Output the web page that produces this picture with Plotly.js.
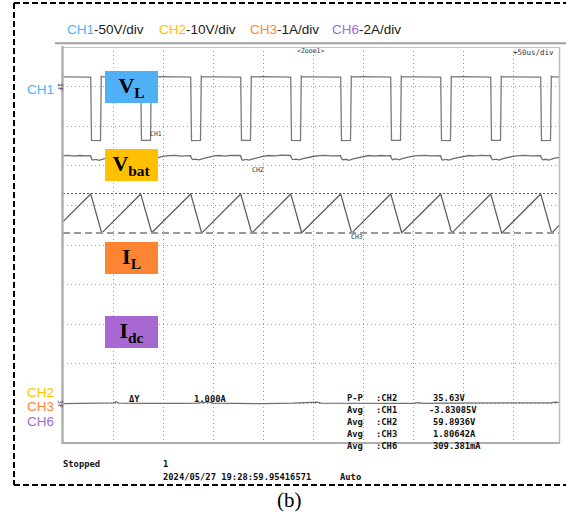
<!DOCTYPE html>
<html>
<head>
<meta charset="utf-8">
<script src="https://cdn.plot.ly/plotly-3.0.1.min.js"></script>
<style>
  html, body { margin: 0; padding: 0; background: #ffffff; }
  #scope { width: 566px; height: 516px; }
</style>
</head>
<body>
<div id="scope"></div>
<script>
// ---- Channel settings (scale per division, trace position in divisions) ----
const chNames   = ['CH1', 'CH2', 'CH3', 'CH6'];
const chUnits   = ['50V/div', '10V/div', '1A/div', '2A/div'];
const chScales  = [50, 10, 1, 2];
const chOffsets = [4, -3.75, -1, -4.15];
const chColors  = ['#4db2ff', '#ffc000', '#ff8533', '#a56bd9'];

// ---- CH1: inductor voltage V_L (time in us, value in V) ----
const ch1T = [0, 12, 20, 27.7, 28.5, 37.5, 38.3, 39.6, 50, 63,
              77.7, 78.5, 87.5, 88.3, 89.6, 100, 113,
              127.7, 128.5, 137.5, 138.3, 139.6, 150, 163,
              177.7, 178.5, 187.5, 188.3, 189.6, 200, 213,
              227.7, 228.5, 237.5, 238.3, 239.6, 250, 263,
              277.7, 278.5, 287.5, 288.3, 289.6, 300, 313,
              327.7, 328.5, 337.5, 338.3, 339.6, 350, 363,
              377.7, 378.5, 387.5, 388.3, 389.6, 400, 413,
              427.7, 428.5, 437.5, 438.3, 439.6, 450, 463,
              477.7, 478.5, 487.5, 488.3, 489.6, 497];
const ch1V = [12.3, 12.0, 12.4, 12.0, -68.0, -68.1, 13.1, 12.3, 12.5, 12.1,
              11.9, -67.9, -68.0, 13.0, 12.2, 12.5, 12.1,
              12.0, -68.1, -68.0, 13.2, 12.3, 12.4, 12.2,
              11.9, -68.0, -67.9, 13.0, 12.3, 12.5, 12.1,
              12.0, -68.0, -68.1, 13.1, 12.2, 12.4, 12.2,
              11.9, -68.1, -68.0, 13.0, 12.3, 12.5, 12.1,
              12.0, -67.9, -68.0, 13.2, 12.3, 12.4, 12.2,
              11.9, -68.0, -68.1, 13.0, 12.2, 12.5, 12.1,
              12.0, -68.0, -67.9, 13.1, 12.3, 12.4, 12.2,
              11.9, -68.1, -68.0, 13.0, 12.3, 12.4];

// ---- CH2: battery voltage V_bat (time in us, value in V) ----
const ch2T = [0, 5, 11, 17, 23, 27.5,
              28.5, 29.5, 33, 36, 40, 45, 50, 56, 62, 68, 74, 77.5,
              78.5, 79.5, 83, 86, 90, 95, 100, 106, 112, 118, 124, 127.5,
              128.5, 129.5, 133, 136, 140, 145, 150, 156, 162, 168, 174, 177.5,
              178.5, 179.5, 183, 186, 190, 195, 200, 206, 212, 218, 224, 227.5,
              228.5, 229.5, 233, 236, 240, 245, 250, 256, 262, 268, 274, 277.5,
              278.5, 279.5, 283, 286, 290, 295, 300, 306, 312, 318, 324, 327.5,
              328.5, 329.5, 333, 336, 340, 345, 350, 356, 362, 368, 374, 377.5,
              378.5, 379.5, 383, 386, 390, 395, 400, 406, 412, 418, 424, 427.5,
              428.5, 429.5, 433, 436, 440, 445, 450, 456, 462, 468, 474, 477.5,
              478.5, 479.5, 483, 486, 490, 494, 497];
const ch2V = [60.05, 60.15, 59.95, 60.1, 60.0, 60.05,
              59.3, 58.95, 59.1, 58.9, 59.2, 59.55, 59.85, 60.1, 59.95, 60.15, 60.0, 60.1,
              59.35, 59.0, 59.15, 58.95, 59.25, 59.6, 59.9, 60.05, 60.15, 59.95, 60.1, 60.05,
              59.4, 59.05, 59.2, 59.0, 59.3, 59.65, 59.95, 60.1, 59.95, 60.15, 60.05, 60.1,
              59.3, 58.9, 59.1, 58.95, 59.25, 59.6, 59.9, 60.1, 60.0, 60.2, 60.05, 60.1,
              59.4, 59.05, 59.2, 59.0, 59.3, 59.6, 59.85, 60.05, 60.15, 60.0, 60.1, 60.05,
              59.35, 59.0, 59.15, 58.9, 59.25, 59.55, 59.85, 60.1, 59.95, 60.1, 60.0, 60.1,
              59.4, 59.05, 59.25, 59.0, 59.35, 59.65, 59.95, 60.05, 60.15, 60.0, 60.1, 60.05,
              59.3, 58.95, 59.1, 58.95, 59.3, 59.6, 59.9, 60.1, 60.0, 60.15, 60.05, 60.1,
              59.35, 59.0, 59.2, 58.95, 59.3, 59.6, 59.9, 60.05, 60.15, 60.0, 60.1, 60.05,
              59.4, 59.0, 59.15, 58.95, 59.3, 59.55, 59.7];

// ---- CH3: inductor current I_L (time in us, value in A) ----
const ch3T = [0, 27.7, 38.7, 77.7, 88.7, 127.7, 138.7, 177.7, 188.7, 227.7, 238.7,
              277.7, 288.7, 327.7, 338.7, 377.7, 388.7, 427.7, 438.7, 477.7, 488.7, 497];
const ch3A = [1.59, 2.29, 1.30, 2.29, 1.31, 2.29, 1.30, 2.29, 1.30, 2.29, 1.31,
              2.29, 1.30, 2.29, 1.31, 2.29, 1.30, 2.29, 1.30, 2.29, 1.30, 1.52];

// ---- CH6: DC-link current I_dc (time in us, value in A) ----
const ch6T = [0, 20, 40, 50, 53, 56, 80, 105, 120, 135, 140, 145, 150, 170, 200, 230,
              250, 254, 258, 280, 300, 330, 350, 355, 360, 385, 410, 440, 470, 488, 492, 497];
const ch6A = [0.29, 0.30, 0.29, 0.33, 0.37, 0.31, 0.30, 0.28, 0.30, 0.31, 0.36, 0.38, 0.31, 0.30, 0.29, 0.31,
              0.32, 0.36, 0.31, 0.30, 0.31, 0.29, 0.30, 0.34, 0.30, 0.31, 0.32, 0.30, 0.31, 0.33, 0.36, 0.34];

// ---- Cursor readout on CH3 ----
const cursorA = [2.30, 1.30];
const cursorText = ['ΔY', '1.000A'];

// ---- Measurement table ----
const measKind  = ['P-P', 'Avg', 'Avg', 'Avg', 'Avg'];
const measSrc   = [':CH2', ':CH1', ':CH2', ':CH3', ':CH6'];
const measValue = ['35.63V', '-3.83085V', '59.8936V', '1.80642A', '309.381mA'];

// ---- Status line ----
const statusText = ['Stopped', '1', '2024/05/27 19:28:59.95416571', 'Auto'];
const topText = ['&lt;Zoom1&gt;', '+50us/div'];

// ---- Signal tags ----
const tagText  = ['V<sub>L</sub>', 'V<sub>bat</sub>', 'I<sub>L</sub>', 'I<sub>dc</sub>'];
const tagColor = ['#4fb0f5', '#ffc000', '#fd8432', '#a868d2'];

// convert a channel's physical values to screen divisions
function toDiv(vals, ch) {
  return vals.map(v => chOffsets[ch] + v / chScales[ch]);
}

// page geometry
const W = 566, H = 516, ML = 63, MR = 6, MT = 47, MB = 73;
const PW = W - ML - MR, PH = H - MT - MB;
const fx = x => (x - ML) / PW;
const fy = y => (H - MB - y) / PH;

const traceColor = ['#7a7a7a', '#6e6e6e', '#5c5c5c', '#707070'];
const series = [[ch1T, ch1V], [ch2T, ch2V], [ch3T, ch3A], [ch6T, ch6A]];
const data = series.map((s, i) => ({
  type: 'scatter', mode: 'lines',
  x: s[0], y: toDiv(s[1], i),
  line: { color: traceColor[i], width: 1.3 },
  hoverinfo: 'skip', showlegend: false
}));

const mono = 'DejaVu Sans Mono, Liberation Mono, monospace';
const sans = 'Liberation Sans, Arial, sans-serif';
const serif = 'Liberation Serif, Times New Roman, serif';

function txt(x, y, text, size, opt) {
  return Object.assign({
    xref: 'paper', yref: 'paper', x: fx(x), y: fy(y), text: text,
    showarrow: false, xanchor: 'left', yanchor: 'middle',
    font: { family: mono, size: size, color: '#111', weight: 'bold' }
  }, opt || {});
}
const tiny = size => ({ font: { family: mono, size: size, color: '#333', weight: 'normal' } });

const annotations = [];

// channel header
const headX = [65, 157, 248, 330];
chNames.forEach((n, i) => {
  annotations.push(txt(headX[i], 29,
    '<span style="color:' + chColors[i] + '">' + n + '</span>-' + chUnits[i], 13.5,
    { font: { family: sans, size: 13.5, color: '#1a1a1a' } }));
});

// channel labels at the left edge
const sideY = [89, 392, 406, 421];
const sideCh = [0, 1, 2, 3];
sideCh.forEach((c, i) => {
  annotations.push(txt(25, sideY[i], chNames[c], 13.5,
    { font: { family: sans, size: 13.5, color: chColors[c] } }));
});

// level markers
annotations.push(txt(60, 87, '1F', 6.5, Object.assign({ xanchor: 'center', textangle: 90 }, tiny(6.5))));
annotations.push(txt(60, 404, '3F', 6.5, Object.assign({ xanchor: 'center', textangle: 90 }, tiny(6.5))));

// signal tags
const tagY = [87, 164.5, 257.5, 331.5];
tagText.forEach((t, i) => {
  annotations.push({
    xref: 'paper', yref: 'paper', x: fx(131.5), y: fy(tagY[i]),
    xanchor: 'center', yanchor: 'middle', showarrow: false,
    text: '<b>' + t + '</b>', width: 53, height: 32, bgcolor: tagColor[i],
    borderpad: 0, borderwidth: 0,
    font: { family: serif, size: 22, color: '#000' }
  });
});

// trace tags on screen
annotations.push(txt(148, 134, 'CH1', 6.5, tiny(6.5)));
annotations.push(txt(250, 170, 'CH2', 6.5, tiny(6.5)));
annotations.push(txt(349, 237, 'CH3', 6.5, tiny(6.5)));

// top of screen
annotations.push(txt(310, 51, topText[0], 6.5, Object.assign({ xanchor: 'center' }, tiny(6.5))));
annotations.push(txt(556, 53, topText[1], 7.5, Object.assign({ xanchor: 'right' }, tiny(7.5))));

// cursor readout
annotations.push(txt(127, 399, cursorText[0], 8.8));
annotations.push(txt(192, 399, cursorText[1], 8.8));

// measurement table
const rowY = [398, 410, 422, 434, 446];
measKind.forEach((k, i) => {
  annotations.push(txt(345, rowY[i], k, 8.8));
  annotations.push(txt(374, rowY[i], measSrc[i], 8.8));
  annotations.push(txt(measValue[i][0] === '-' ? 427 : 431, rowY[i], measValue[i], 8.8));
});

// status line
annotations.push(txt(61, 464, statusText[0], 8.8));
annotations.push(txt(161, 464, statusText[1], 8.8));
annotations.push(txt(161, 477, statusText[2], 8.8));
annotations.push(txt(338, 477, statusText[3], 8.8));

// caption
annotations.push(txt(289.5, 500, '(b)', 21, { xanchor: 'center', font: { family: serif, size: 21, color: '#000' } }));

// frame, cursors and outer border
function seg(x0, y0, x1, y1, color, width, dash) {
  return { type: 'line', xref: 'paper', yref: 'paper',
           x0: fx(x0), y0: fy(y0), x1: fx(x1), y1: fy(y1),
           line: { color: color, width: width, dash: dash || 'solid' } };
}
const cy = toDiv(cursorA, 2);
const shapes = [
  { type: 'line', xref: 'paper', yref: 'y', x0: 0, x1: 1, y0: cy[0], y1: cy[0],
    line: { color: '#555', width: 1, dash: '2px,2px' } },
  { type: 'line', xref: 'paper', yref: 'y', x0: 0, x1: 1, y0: cy[1], y1: cy[1],
    line: { color: '#9a9a9a', width: 2, dash: '7px,4px' } },
  seg(55, 43.3, 566, 43.3, '#a0a0a0', 2),
  seg(63, 47.5, 559.5, 47.5, '#c4c4c4', 1.2),
  seg(559.5, 47, 559.5, 443, '#bdbdbd', 1.5),
  seg(62, 443, 560, 443, '#acacac', 2),
  seg(62.5, 46, 62.5, 444, '#b0b0b0', 2.5),
  seg(14, 3, 570, 3, '#000', 2, '6px,3px'),
  seg(14, 3, 14, 485, '#000', 2, '6px,3px'),
  seg(14, 485, 570, 485, '#000', 2, '6px,3px')
];

const layout = {
  width: W, height: H,
  margin: { l: ML, r: MR, t: MT, b: MB, pad: 0 },
  paper_bgcolor: '#ffffff', plot_bgcolor: '#ffffff',
  showlegend: false,
  xaxis: { range: [0, 497], tick0: 0, dtick: 50, showgrid: true, gridcolor: '#9c9c9c',
           gridwidth: 1, griddash: '1px,3px', zeroline: false, showline: false,
           showticklabels: false, ticks: '', fixedrange: true },
  yaxis: { range: [-5, 5], tick0: 0, dtick: 1, showgrid: true, gridcolor: '#9c9c9c',
           gridwidth: 1, griddash: '1px,3px', zeroline: false, showline: false,
           showticklabels: false, ticks: '', fixedrange: true },
  shapes: shapes,
  annotations: annotations
};

Plotly.newPlot('scope', data, layout, { staticPlot: true, displayModeBar: false });
</script>
</body>
</html>
